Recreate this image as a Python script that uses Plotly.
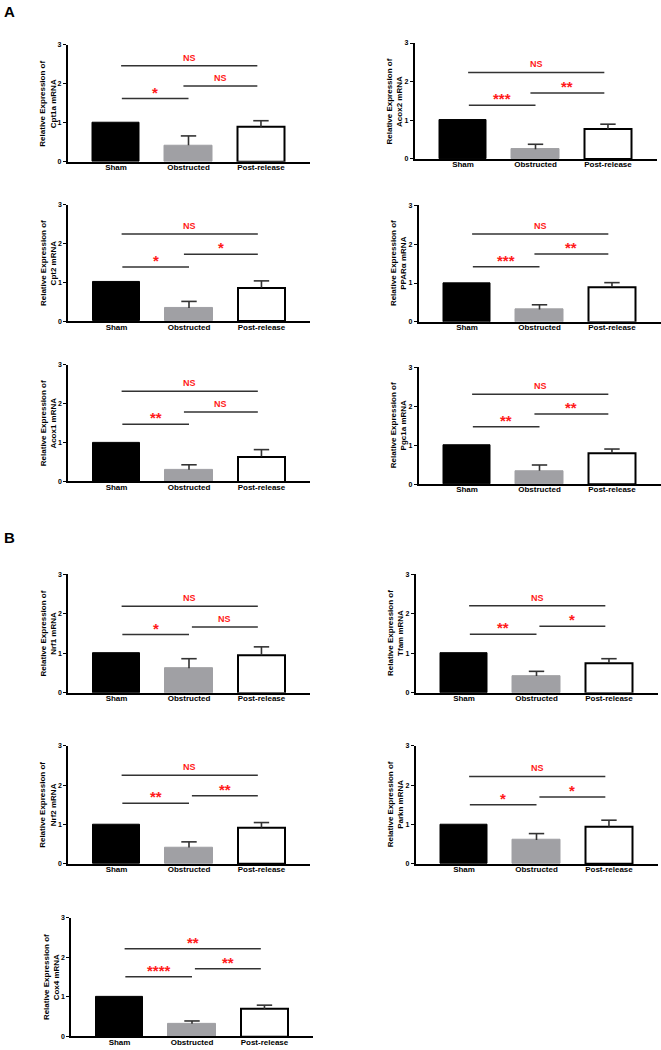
import plotly.graph_objects as go

W, H = 661, 1050

groups = ["Sham", "Obstructed", "Post-release"]
genes = ["Cpt1a", "Acox2", "Cpt2", "PPARα", "Acox1", "Pgc1a",
         "Nrf1", "Tfam", "Nrf2", "Parkn", "Cox4"]
sham = [1.0] * 11
sham_sem = [0.0] * 11
obstructed = [0.42, 0.25, 0.34, 0.32, 0.30, 0.34, 0.62, 0.42, 0.42, 0.61, 0.32]
obstructed_sem = [0.24, 0.13, 0.17, 0.12, 0.13, 0.15, 0.24, 0.12, 0.14, 0.16, 0.07]
post_release = [0.89, 0.77, 0.86, 0.90, 0.64, 0.79, 0.95, 0.75, 0.92, 0.95, 0.69]
post_release_sem = [0.16, 0.13, 0.18, 0.11, 0.18, 0.11, 0.21, 0.11, 0.13, 0.16, 0.10]

# significance brackets: (height, label)
sham_vs_post_y = [2.46, 2.24, 2.25, 2.26, 2.32, 2.31, 2.19, 2.20, 2.25, 2.22, 2.22]
sham_vs_post_lab = ["NS"] * 10 + ["**"]
obs_vs_post_y = [1.94, 1.71, 1.73, 1.75, 1.79, 1.80, 1.66, 1.68, 1.73, 1.70, 1.71]
obs_vs_post_lab = ["NS", "**", "*", "**", "NS", "**", "NS", "*", "**", "*", "**"]
sham_vs_obs_y = [1.62, 1.39, 1.40, 1.42, 1.47, 1.47, 1.47, 1.48, 1.54, 1.50, 1.51]
sham_vs_obs_lab = ["*", "***", "*", "***", "**", "**", "*", "**", "**", "*", "****"]

# panel geometry in pixels
ax_left = [67.5, 414.5, 68, 418.5, 68, 418.5, 68, 415.5, 68, 415.5, 71]
ax_top = [41, 39.3, 202.3, 202.7, 363.3, 365.7, 574, 574, 746.7, 746.7, 920]
ax_bot = [158.7, 156, 319.3, 320, 480.7, 483.3, 693.3, 693.3, 865.7, 865.7, 1039.3]
ax_width = 242

BLACK = "#000000"
GRAY = "#a0a0a4"
LINE = "#333333"
RED = "#ff1a1a"
FONT = "Arial, Liberation Sans, sans-serif"

fig = go.Figure()
shapes = []
annotations = []

for i, g in enumerate(genes):
    n = "" if i == 0 else str(i + 1)
    xa, ya = "x" + n, "y" + n
    vals = [sham[i], obstructed[i], post_release[i]]
    sems = [sham_sem[i], obstructed_sem[i], post_release_sem[i]]
    fig.add_trace(go.Bar(
        x=groups, y=vals, xaxis=xa, yaxis=ya, width=0.66,
        marker=dict(color=[BLACK, GRAY, "#ffffff"],
                    line=dict(color=[BLACK, GRAY, BLACK], width=[1, 1, 2])),
        error_y=dict(type="data", symmetric=False, array=sems,
                     arrayminus=[0, 0, 0], color=LINE, thickness=1.6, width=0),
        showlegend=False, hoverinfo="skip",
    ))
    # caps on top of the upward SEM bars
    fig.add_trace(go.Scatter(
        x=groups, y=[v + s if s > 0 else None for v, s in zip(vals, sems)],
        xaxis=xa, yaxis=ya, mode="markers",
        marker=dict(symbol="line-ew", size=11, line=dict(color=LINE, width=1.6)),
        showlegend=False, hoverinfo="skip", cliponaxis=False,
    ))
    x0 = ax_left[i] / W
    x1 = min(1.0, (ax_left[i] + ax_width) / W)
    y0 = 1 - ax_bot[i] / H
    y1 = 1 - ax_top[i] / H
    fig.layout["xaxis" + n] = dict(
        domain=[x0, x1], anchor=ya, type="category",
        range=[-0.67, 2.67], showline=True, linecolor=BLACK, linewidth=1.5,
        ticks="", showgrid=False, zeroline=False, fixedrange=True,
        ticklabelstandoff=-3,
        tickfont=dict(family=FONT, size=8, color=BLACK, weight="bold"),
    )
    fig.layout["yaxis" + n] = dict(
        domain=[y0, y1], anchor=xa, range=[0, 3],
        tickvals=[0, 1, 2, 3], ticks="outside", ticklen=3, tickwidth=1.2,
        tickcolor=BLACK, showline=True, linecolor=BLACK, linewidth=1.5,
        showgrid=False, zeroline=False, fixedrange=True,
        tickfont=dict(family=FONT, size=7, color=BLACK, weight="bold"),
    )
    # y title
    annotations.append(dict(
        xref="paper", yref="paper", x=(ax_left[i] - 20) / W, y=(y0 + y1) / 2,
        text="Relative Expression of<br>" + g + " mRNA", textangle=-90,
        showarrow=False, xanchor="center", yanchor="middle",
        font=dict(family=FONT, size=8, color=BLACK, weight="bold"),
    ))
    brackets = [
        (0.07, 1.95, sham_vs_post_y[i], sham_vs_post_lab[i]),
        (0.93 if i < 6 else 1.04, 1.95, obs_vs_post_y[i], obs_vs_post_lab[i]),
        (0.08, 1.0, sham_vs_obs_y[i], sham_vs_obs_lab[i]),
    ]
    for bx0, bx1, by, lab in brackets:
        shapes.append(dict(type="line", xref=xa, yref=ya, x0=bx0, x1=bx1,
                           y0=by, y1=by, line=dict(color=LINE, width=1.5)))
        is_ns = lab == "NS"
        annotations.append(dict(
            xref=xa, yref=ya, x=(bx0 + bx1) / 2, y=by,
            text=lab, showarrow=False, xanchor="center", yanchor="bottom",
            yshift=1 if is_ns else -4,
            font=dict(family=FONT, size=9 if is_ns else 15, color=RED, weight="bold"),
        ))

for lab, ypx in [("A", 8), ("B", 537)]:
    annotations.append(dict(
        xref="paper", yref="paper", x=2 / W, y=1 - ypx / H,
        text=lab, showarrow=False, xanchor="left", yanchor="middle",
        font=dict(family=FONT, size=15, color=BLACK, weight="bold"),
    ))

fig.update_layout(
    width=W, height=H, margin=dict(l=0, r=0, t=0, b=0),
    paper_bgcolor="white", plot_bgcolor="white",
    shapes=shapes, annotations=annotations, bargap=0,
)

fig.write_html(
    "out.html",
    config={"displayModeBar": False},
    post_script="document.body.style.margin='0px';document.body.style.padding='0px';",
)
